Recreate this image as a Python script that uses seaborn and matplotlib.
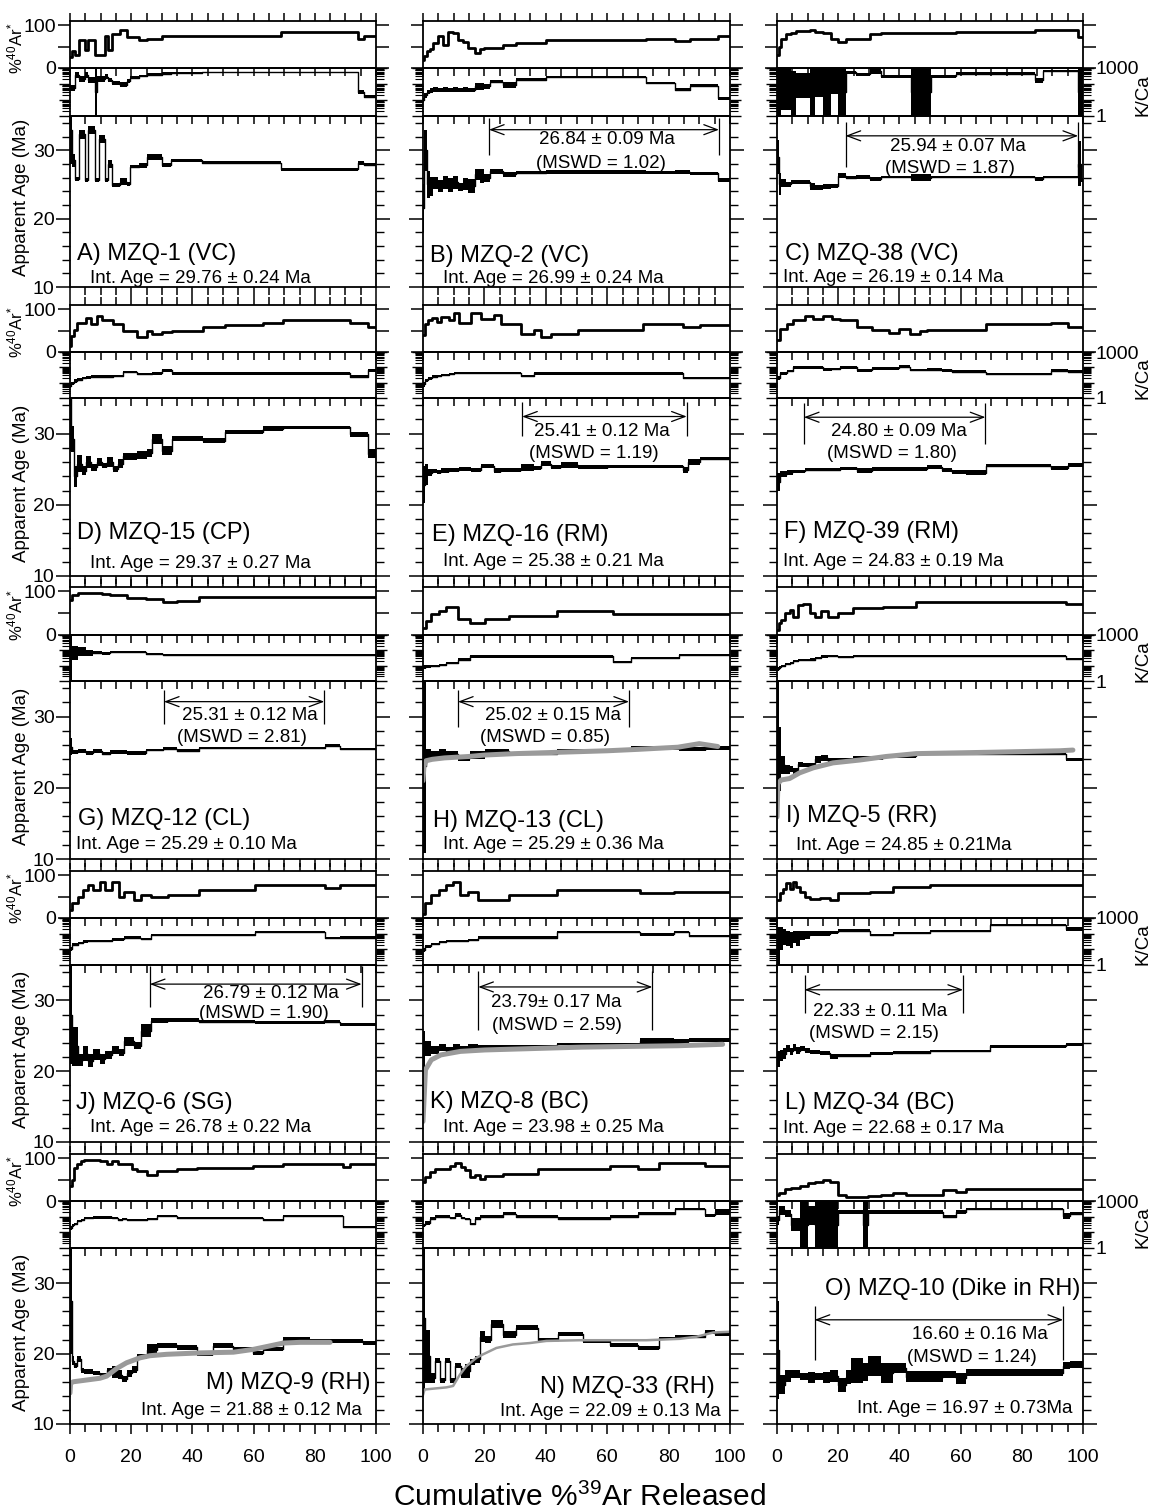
import numpy as np
import matplotlib
matplotlib.use("Agg")
import matplotlib.pyplot as plt
import seaborn as sns
from matplotlib.ticker import MultipleLocator, FixedLocator, LogLocator, FuncFormatter, NullFormatter

sns.set_theme(style="ticks")
plt.rcParams["font.family"] = ["Liberation Sans", "DejaVu Sans"]
plt.rcParams["mathtext.fontset"] = "custom"
plt.rcParams["mathtext.rm"] = "Liberation Sans"
plt.rcParams["mathtext.it"] = "Liberation Sans"
plt.rcParams["mathtext.bf"] = "Liberation Sans"
for k in ["text.color", "axes.labelcolor", "xtick.color", "ytick.color", "axes.edgecolor"]:
    plt.rcParams[k] = "black"

# ---------------- DATA ----------------
# Each sample: step edges (cumulative %39Ar), age (Ma), age half-error, %40Ar*, log10(K/Ca), log10 error
A_edges = [0, 0.7, 1.5, 3.0, 5.0, 6.0, 8.3, 8.7, 9.5, 11.5, 12.3, 13.8, 16.5, 18.5, 19.7, 22.5, 25.0, 30.0, 33.0, 43.0, 69.0, 94.0, 96.0, 100]
A_age = [33.0, 28.5, 25.8, 32.3, 25.6, 33.0, 25.6, 25.6, 31.6, 25.6, 28.0, 24.9, 25.4, 25.0, 27.6, 27.8, 29.0, 27.8, 28.5, 28.2, 27.2, 28.1, 27.9]
A_aerr = [5.0, 1.0, 0.3, 0.6, 0.3, 0.6, 0.3, 0.3, 0.6, 0.3, 0.6, 0.35, 0.5, 0.3, 0.25, 0.35, 0.4, 0.3, 0.25, 0.2, 0.2, 0.3, 0.2]
A_ar = [25, 40, 30, 65, 42, 65, 30, 30, 30, 75, 42, 80, 88, 72, 72, 65, 67, 75, 75, 75, 85, 68, 75]
A_kca = [1.75, 1.75, 2.55, 2.3, 2.55, 2.25, 1.5, 2.3, 2.3, 2.45, 2.25, 2.05, 1.95, 2.2, 2.4, 2.5, 2.58, 2.65, 2.69, 2.72, 2.72, 1.5, 1.2]
A_kerr = [0.2, 0.2, 0.2, 0.2, 0.2, 0.2, 1.5, 0.2, 0.2, 0.15, 0.15, 0.12, 0.15, 0.12, 0.1, 0.08, 0.08, 0.08, 0.07, 0.06, 0.06, 0.1, 0.1]

B_edges = [0, 0.4, 1.2, 2.2, 3.3, 4.9, 6.5, 8.2, 9.8, 11.4, 13.0, 14.7, 16.8, 18.5, 19.8, 21.7, 26.1, 30.4, 40.2, 72.8, 82.1, 87.0, 96.2, 100]
B_age = [21.5, 30.0, 25.0, 24.7, 25.2, 24.8, 25.3, 24.9, 25.3, 24.6, 25.1, 24.8, 26.5, 26.2, 25.9, 26.9, 26.5, 26.7, 26.85, 26.75, 26.8, 26.6, 25.6]
B_aerr = [3.5, 3.0, 2.0, 1.4, 0.9, 0.9, 1.0, 1.0, 1.0, 0.6, 0.9, 1.0, 0.8, 1.0, 0.6, 0.35, 0.35, 0.25, 0.3, 0.25, 0.35, 0.2, 0.3]
B_ar = [19, 27, 40, 45, 58, 75, 54, 85, 81, 65, 62, 46, 35, 45, 46, 46, 54, 59, 65, 69, 64, 69, 75]
B_kca = [1.0, 1.3, 1.5, 1.6, 1.65, 1.6, 1.65, 1.6, 1.65, 1.6, 1.65, 1.6, 1.85, 1.85, 1.85, 2.15, 1.95, 2.27, 2.43, 2.06, 1.64, 1.89, 1.11]
B_kerr = [0.15, 0.15, 0.12, 0.15, 0.15, 0.12, 0.15, 0.12, 0.15, 0.12, 0.15, 0.12, 0.2, 0.2, 0.15, 0.1, 0.2, 0.08, 0.07, 0.08, 0.08, 0.08, 0.1]

C_edges = [0, 0.5, 1.4, 3.1, 4.7, 6.3, 10.7, 12.3, 15.0, 17.8, 20.0, 22.4, 25.9, 30.3, 34.1, 43.9, 50.4, 58.6, 84.2, 86.9, 98.4, 99.2, 100]
C_age = [29.0, 25.0, 25.2, 25.0, 25.4, 25.3, 24.7, 24.6, 24.7, 24.8, 26.3, 26.0, 26.1, 25.8, 26.1, 26.0, 26.1, 26.1, 25.8, 26.1, 28.0, 25.7]
C_aerr = [2.5, 1.6, 0.6, 0.4, 0.3, 0.3, 0.5, 0.35, 0.4, 0.3, 0.4, 0.25, 0.25, 0.25, 0.2, 0.5, 0.2, 0.2, 0.25, 0.2, 3.3, 0.3]
C_ar = [30, 50, 69, 80, 82, 87, 88, 85, 81, 69, 62, 67, 67, 80, 81, 81, 81, 85, 90, 90, 73, 73]
C_kca = [1.5, 1.5, 1.7, 1.7, 1.4, 1.9, 1.5, 2.1, 1.5, 2.2, 1.5, 2.73, 2.6, 2.8, 2.48, 1.5, 2.48, 2.64, 2.22, 2.8, 1.5, 1.5]
C_kerr = [1.5, 1.5, 1.3, 1.3, 1.4, 0.8, 1.5, 0.9, 1.5, 0.8, 1.5, 0.1, 0.1, 0.2, 0.08, 1.5, 0.08, 0.08, 0.15, 0.08, 1.5, 1.5]

D_edges = [0, 0.4, 1.3, 2.4, 3.8, 5.2, 6.8, 8.7, 10.3, 12.2, 14.2, 15.8, 17.4, 21.8, 25.1, 26.7, 30.0, 33.2, 43.6, 50.7, 63.2, 69.7, 91.5, 97.5, 100]
D_age = [35.0, 29.2, 24.0, 25.8, 24.8, 26.0, 25.3, 26.0, 25.5, 26.0, 25.0, 25.8, 26.8, 27.0, 27.3, 29.3, 27.6, 29.3, 29.0, 30.2, 30.7, 30.9, 29.9, 27.2]
D_aerr = [7.5, 1.8, 1.5, 1.2, 0.6, 0.8, 0.5, 0.6, 0.4, 0.7, 0.4, 0.6, 0.5, 0.5, 0.6, 0.7, 0.6, 0.3, 0.35, 0.25, 0.3, 0.2, 0.35, 0.6]
D_ar = [15, 38, 52, 68, 69, 80, 65, 85, 75, 75, 65, 65, 50, 35, 48, 42, 46, 48, 59, 63, 69, 75, 69, 58]
D_kca = [0.8, 0.95, 1.1, 1.2, 1.3, 1.35, 1.4, 1.4, 1.4, 1.4, 1.42, 1.42, 1.7, 1.55, 1.55, 1.6, 1.8, 1.6, 1.6, 1.6, 1.6, 1.6, 1.4, 1.8]
D_kerr = [0.12, 0.12, 0.12, 0.12, 0.08, 0.08, 0.08, 0.08, 0.08, 0.08, 0.08, 0.08, 0.08, 0.08, 0.08, 0.08, 0.08, 0.08, 0.08, 0.08, 0.08, 0.08, 0.08, 0.12]

E_edges = [0, 0.6, 1.5, 2.8, 4.5, 6.0, 8.4, 10.0, 11.7, 15.7, 19.0, 23.0, 25.4, 31.9, 36.0, 38.4, 41.7, 44.9, 50.6, 60.3, 71.6, 84.6, 86.2, 90.3, 100]
E_age = [22.8, 24.3, 24.5, 24.7, 24.6, 24.8, 24.9, 24.9, 25.0, 24.9, 25.4, 24.8, 24.9, 25.2, 25.2, 25.8, 25.3, 25.6, 25.3, 25.4, 25.4, 24.9, 26.0, 26.5]
E_aerr = [2.6, 1.5, 0.5, 0.3, 0.3, 0.3, 0.25, 0.25, 0.25, 0.25, 0.3, 0.3, 0.25, 0.5, 0.25, 0.35, 0.3, 0.45, 0.3, 0.25, 0.25, 0.45, 0.45, 0.25]
E_ar = [40, 65, 75, 80, 70, 82, 75, 92, 69, 92, 77, 87, 65, 42, 52, 35, 42, 42, 52, 52, 65, 58, 58, 64]
E_kca = [0.9, 1.15, 1.3, 1.4, 1.45, 1.5, 1.57, 1.65, 1.65, 1.65, 1.65, 1.65, 1.65, 1.45, 1.6, 1.6, 1.6, 1.6, 1.6, 1.6, 1.6, 1.3, 1.3, 1.3]
E_kerr = [0.15, 0.12, 0.1, 0.07, 0.07, 0.07, 0.07, 0.07, 0.07, 0.07, 0.07, 0.07, 0.07, 0.07, 0.07, 0.07, 0.07, 0.07, 0.07, 0.07, 0.07, 0.07, 0.07, 0.07]

F_edges = [0, 1.1, 3.2, 5.2, 9.2, 11.7, 14.9, 18.1, 20.6, 26.3, 31.1, 36.7, 40.0, 43.4, 46.6, 48.9, 53.8, 57.1, 61.9, 68.4, 89.5, 95.1, 100]
F_age = [23.2, 24.3, 24.6, 24.7, 24.9, 24.9, 24.9, 24.9, 25.1, 24.8, 25.0, 25.0, 25.0, 25.0, 25.0, 25.3, 24.9, 24.6, 24.5, 25.5, 25.2, 25.6]
F_aerr = [1.2, 0.4, 0.35, 0.2, 0.2, 0.2, 0.2, 0.2, 0.2, 0.35, 0.3, 0.3, 0.3, 0.3, 0.3, 0.3, 0.25, 0.3, 0.35, 0.2, 0.3, 0.3]
F_ar = [27, 54, 65, 75, 85, 77, 85, 77, 75, 58, 52, 44, 54, 42, 50, 52, 52, 52, 52, 65, 69, 58]
F_kca = [1.3, 1.6, 1.75, 2.0, 2.0, 2.0, 1.87, 1.9, 2.0, 1.8, 1.93, 1.93, 2.04, 1.82, 1.82, 1.85, 1.8, 1.72, 1.72, 1.57, 1.78, 1.72]
F_kerr = [0.12, 0.1, 0.08, 0.08, 0.08, 0.08, 0.08, 0.08, 0.08, 0.08, 0.08, 0.08, 0.08, 0.08, 0.08, 0.08, 0.08, 0.08, 0.08, 0.07, 0.08, 0.1]

G_edges = [0, 0.8, 2.7, 5.1, 7.4, 10.6, 13.0, 18.5, 24.8, 30.4, 35.1, 42.2, 83.4, 88.1, 100]
G_age = [25.8, 25.0, 25.2, 24.9, 25.2, 24.8, 25.0, 24.9, 25.3, 25.5, 25.2, 25.6, 25.9, 25.5]
G_aerr = [1.2, 0.3, 0.3, 0.3, 0.3, 0.25, 0.25, 0.25, 0.2, 0.2, 0.2, 0.15, 0.2, 0.15]
G_ar = [80, 92, 97, 97, 97, 95, 92, 85, 82, 75, 78, 88, 88, 88]
G_kca = [1.5, 1.8, 1.9, 1.8, 1.85, 1.8, 1.9, 1.9, 1.75, 1.7, 1.7, 1.7, 1.7, 1.7]
G_kerr = [1.45, 0.45, 0.3, 0.2, 0.1, 0.08, 0.06, 0.06, 0.06, 0.06, 0.06, 0.06, 0.06, 0.06]

H_edges = [0, 1.1, 2.7, 5.1, 7.4, 11.4, 15.3, 20.1, 28.0, 43.8, 62.0, 67.6, 83.4, 92.1, 100]
H_age = [23.0, 24.8, 24.6, 25.0, 24.7, 24.2, 24.6, 25.1, 24.8, 25.2, 25.3, 25.6, 25.5, 25.6]
H_aerr = [12.2, 0.6, 0.5, 0.5, 0.5, 0.4, 0.5, 0.3, 0.25, 0.2, 0.3, 0.25, 0.3, 0.3]
H_ar = [16, 31, 47, 55, 65, 37, 28, 37, 43, 55, 49, 49, 49, 49]
H_kca = [0.9, 0.95, 1.0, 1.05, 1.2, 1.4, 1.6, 1.6, 1.6, 1.6, 1.25, 1.5, 1.7, 1.7]
H_kerr = [0.12, 0.1, 0.07, 0.07, 0.07, 0.07, 0.07, 0.07, 0.07, 0.07, 0.07, 0.07, 0.07, 0.07]
H_gx = [0, 0.3, 1, 3, 7, 15, 20, 30, 45, 60, 70, 83, 90, 93, 96]
H_gy = [21.0, 23.0, 23.8, 24.0, 24.2, 24.4, 24.6, 24.8, 25.0, 25.2, 25.4, 25.7, 26.2, 26.0, 25.8]

I_edges = [0, 0.5, 1.4, 2.5, 4.1, 5.2, 6.9, 8.5, 10.7, 12.3, 14.5, 16.7, 19.9, 24.8, 34.6, 45.5, 94.6, 100]
I_age = [26.0, 24.0, 23.2, 22.6, 22.6, 22.4, 23.3, 23.2, 23.1, 24.0, 24.2, 23.8, 23.9, 24.2, 24.4, 24.8, 24.0]
I_aerr = [9.5, 4.5, 1.2, 0.6, 0.4, 0.4, 0.35, 0.25, 0.35, 0.45, 0.45, 0.35, 0.25, 0.25, 0.2, 0.2, 0.2]
I_ar = [12, 27, 35, 50, 58, 42, 69, 71, 50, 42, 54, 42, 50, 62, 65, 75, 71]
I_kca = [0.8, 0.9, 1.0, 1.1, 1.15, 1.3, 1.35, 1.35, 1.4, 1.5, 1.6, 1.65, 1.55, 1.65, 1.65, 1.65, 1.44]
I_kerr = [0.12, 0.1, 0.07, 0.07, 0.07, 0.07, 0.07, 0.07, 0.07, 0.07, 0.07, 0.07, 0.07, 0.07, 0.07, 0.07, 0.07]
I_gx = [0, 0.3, 1.4, 4.1, 7.4, 11.8, 18.3, 27, 35.7, 45.5, 70.6, 92.4, 96.7]
I_gy = [15.9, 20.6, 21.1, 21.3, 22.1, 22.8, 23.5, 23.9, 24.4, 24.8, 25.0, 25.2, 25.3]

J_edges = [0, 0.8, 2.7, 4.3, 5.9, 7.4, 9.8, 11.4, 13.8, 16.1, 17.7, 20.9, 23.3, 26.4, 32.0, 42.2, 60.4, 83.4, 88.1, 100]
J_age = [28.0, 23.5, 21.6, 22.5, 21.5, 22.4, 21.7, 22.3, 23.0, 22.6, 24.2, 23.6, 25.7, 27.1, 27.2, 27.0, 26.9, 27.0, 26.6]
J_aerr = [7.0, 2.8, 0.9, 1.1, 0.9, 0.8, 0.7, 0.6, 0.5, 0.5, 0.6, 0.5, 0.9, 0.35, 0.25, 0.2, 0.2, 0.2, 0.2]
J_ar = [18, 34, 50, 66, 78, 66, 84, 65, 84, 50, 62, 42, 54, 49, 54, 66, 78, 70, 77]
J_kca = [1.0, 1.3, 1.4, 1.5, 1.55, 1.55, 1.55, 1.55, 1.63, 1.63, 1.75, 1.75, 1.65, 1.9, 1.9, 1.9, 2.1, 1.7, 1.75]
J_kerr = [0.12, 0.1, 0.07, 0.07, 0.07, 0.07, 0.07, 0.07, 0.07, 0.07, 0.07, 0.07, 0.07, 0.07, 0.07, 0.07, 0.07, 0.07, 0.07]

K_edges = [0, 0.8, 2.7, 5.1, 7.4, 9.8, 12.2, 14.6, 18.0, 28.0, 43.8, 70.7, 81.8, 86.6, 100]
K_age = [23.0, 23.2, 23.0, 23.3, 22.9, 23.4, 23.1, 23.5, 23.5, 23.5, 23.85, 24.3, 24.2, 24.4]
K_aerr = [2.7, 1.0, 0.6, 0.5, 0.5, 0.4, 0.4, 0.3, 0.25, 0.25, 0.2, 0.4, 0.4, 0.25]
K_ar = [10, 34, 54, 66, 78, 84, 55, 62, 42, 54, 66, 58, 60, 60]
K_kca = [0.95, 1.2, 1.35, 1.45, 1.55, 1.55, 1.55, 1.6, 1.75, 1.75, 2.1, 1.95, 2.1, 1.85]
K_kerr = [0.12, 0.1, 0.07, 0.07, 0.07, 0.07, 0.07, 0.07, 0.07, 0.07, 0.07, 0.07, 0.07, 0.07]
K_gx = [0, 0.8, 2.7, 5.8, 12.2, 20.1, 35.9, 51.7, 67.4, 83.2, 97.6]
K_gy = [12.9, 20.2, 21.6, 22.3, 22.8, 23.0, 23.2, 23.4, 23.5, 23.6, 23.8]

L_edges = [0, 0.9, 2.0, 3.1, 4.1, 5.2, 6.3, 7.4, 9.0, 10.7, 13.9, 17.2, 19.9, 30.3, 37.9, 49.9, 69.5, 94.6, 100]
L_age = [21.7, 22.2, 22.5, 23.2, 22.8, 23.3, 22.9, 23.2, 22.9, 22.7, 22.6, 22.1, 22.2, 22.55, 22.6, 22.85, 23.5, 23.8]
L_aerr = [1.1, 0.8, 0.8, 0.5, 0.5, 0.5, 0.5, 0.4, 0.35, 0.3, 0.3, 0.4, 0.2, 0.2, 0.2, 0.2, 0.2, 0.2]
L_ar = [42, 58, 67, 81, 69, 85, 73, 62, 50, 44, 46, 42, 58, 62, 73, 78, 78, 78]
L_kca = [1.2, 1.7, 1.8, 1.7, 1.6, 1.8, 1.7, 1.9, 1.9, 2.0, 2.0, 2.1, 2.2, 1.93, 2.05, 2.2, 2.57, 2.3]
L_kerr = [1.2, 0.75, 0.5, 0.5, 0.5, 0.4, 0.5, 0.3, 0.25, 0.15, 0.15, 0.1, 0.08, 0.06, 0.06, 0.06, 0.06, 0.1]

M_edges = [0, 0.5, 1.3, 2.4, 3.5, 4.6, 7.6, 9.8, 12.0, 13.6, 15.8, 16.9, 18.5, 20.2, 21.8, 25.1, 28.3, 34.9, 41.4, 46.8, 53.4, 59.9, 63.2, 69.7, 78.4, 89.3, 91.5, 95.9, 100]
M_age = [27.5, 19.0, 18.3, 19.2, 17.6, 17.4, 17.2, 16.9, 17.6, 17.4, 17.0, 16.4, 17.2, 17.7, 19.6, 20.5, 21.2, 20.9, 20.0, 21.1, 20.6, 20.1, 20.7, 22.0, 21.8, 21.8, 21.8, 21.5]
M_aerr = [7.5, 0.6, 0.4, 0.4, 0.4, 0.35, 0.3, 0.35, 0.35, 0.9, 0.6, 0.4, 0.5, 0.5, 0.4, 0.8, 0.35, 0.35, 0.3, 0.35, 0.3, 0.3, 0.3, 0.3, 0.25, 0.25, 0.25, 0.25]
M_ar = [34, 50, 78, 86, 94, 96, 96, 94, 86, 94, 86, 86, 86, 75, 70, 62, 70, 74, 78, 78, 78, 82, 82, 87, 87, 80, 87, 87]
M_kca = [1.3, 1.45, 1.55, 1.7, 1.8, 1.9, 1.95, 1.95, 1.95, 1.9, 1.8, 1.85, 1.8, 1.8, 1.8, 1.85, 2.05, 1.9, 1.9, 1.9, 1.9, 1.9, 1.8, 2.05, 2.05, 1.36, 1.36, 1.36]
M_kerr = [0.12, 0.1, 0.07, 0.07, 0.07, 0.07, 0.07, 0.07, 0.07, 0.07, 0.07, 0.07, 0.07, 0.07, 0.07, 0.07, 0.07, 0.07, 0.07, 0.07, 0.07, 0.07, 0.07, 0.07, 0.07, 0.07, 0.07, 0.07]
M_gx = [0, 0.2, 1.1, 9.8, 12.0, 15.3, 18.5, 22.9, 26.1, 31.6, 42.5, 53.4, 59.9, 64.3, 69.7, 75.2, 85.0]
M_gy = [14.4, 15.8, 16.0, 16.5, 16.8, 17.9, 18.7, 19.4, 19.7, 19.9, 20.1, 20.2, 20.6, 21.0, 21.5, 21.6, 21.6]

N_edges = [0, 0.5, 2.2, 3.8, 5.4, 7.1, 8.7, 10.3, 12.5, 13.6, 15.2, 16.8, 18.5, 20.1, 22.3, 26.1, 30.4, 37.5, 44.0, 52.2, 60.9, 70.1, 77.0, 82.1, 91.8, 95.1, 100]
N_age = [25.0, 19.6, 16.5, 19.0, 16.2, 19.0, 16.2, 18.3, 17.3, 17.5, 18.8, 19.2, 22.4, 22.0, 24.2, 22.7, 23.7, 21.95, 22.8, 21.75, 21.2, 20.85, 22.2, 22.4, 23.1, 22.8]
N_aerr = [10.0, 3.8, 0.7, 0.4, 0.4, 0.4, 0.4, 0.4, 0.7, 1.0, 0.4, 0.5, 0.8, 0.5, 0.55, 0.5, 0.35, 0.2, 0.3, 0.25, 0.3, 0.3, 0.2, 0.25, 0.25, 0.25]
N_ar = [44, 56, 68, 74, 74, 76, 82, 88, 80, 72, 56, 60, 52, 58, 58, 64, 64, 74, 74, 74, 82, 74, 88, 88, 82, 82]
N_kca = [1.44, 1.6, 1.87, 2.0, 2.0, 2.0, 1.93, 2.1, 1.9, 1.85, 1.54, 1.87, 2.0, 2.0, 2.0, 2.19, 2.0, 2.0, 1.87, 1.87, 2.0, 2.19, 2.19, 2.5, 2.08, 2.29]
N_kerr = [0.12, 0.12, 0.08, 0.08, 0.08, 0.08, 0.08, 0.15, 0.08, 0.08, 0.08, 0.08, 0.08, 0.08, 0.08, 0.08, 0.08, 0.08, 0.08, 0.08, 0.08, 0.08, 0.08, 0.08, 0.08, 0.2]
N_gx = [0, 0.5, 7.6, 9.8, 12.0, 14.1, 17.4, 19.6, 23.9, 29.3, 34.8, 40.2, 51.1, 62.0, 72.8, 78.3, 83.7, 89.1, 94.6, 100]
N_gy = [14.1, 14.9, 15.2, 15.4, 17.0, 18.2, 19.4, 19.9, 20.8, 21.3, 21.5, 21.8, 21.9, 21.9, 21.9, 22.0, 22.1, 22.4, 23.0, 23.1]

O_edges = [0, 0.7, 2.5, 4.7, 7.4, 10.1, 12.3, 15.0, 17.2, 19.9, 22.7, 24.3, 28.1, 29.7, 34.1, 37.9, 42.3, 54.2, 58.6, 61.9, 93.5, 95.6, 100]
O_age = [20.5, 15.6, 16.8, 17.1, 16.8, 16.6, 16.8, 16.6, 16.8, 15.6, 16.7, 17.6, 17.4, 18.2, 17.2, 17.9, 16.7, 17.0, 16.5, 17.3, 18.3, 18.5]
O_aerr = [7.0, 1.4, 0.8, 0.5, 0.5, 0.8, 0.5, 0.8, 0.8, 1.0, 1.0, 1.8, 1.3, 1.4, 1.4, 0.7, 0.8, 0.5, 0.8, 0.55, 0.5, 0.5]
O_ar = [14, 19, 28, 30, 35, 42, 45, 50, 45, 14, 10, 10, 10, 12, 14, 18, 14, 26, 22, 27, 27, 27]
O_kca = [1.76, 2.4, 2.2, 1.5, 1.5, 2.1, 1.5, 1.5, 1.5, 2.3, 2.3, 2.3, 1.5, 2.3, 2.3, 2.3, 2.3, 2.0, 2.3, 2.5, 2.05, 2.2]
O_kerr = [0.3, 0.3, 0.2, 0.4, 1.5, 0.6, 1.5, 1.5, 1.5, 0.1, 0.1, 0.1, 1.5, 0.1, 0.1, 0.1, 0.1, 0.1, 0.1, 0.08, 0.2, 0.1]

# Labels and plateau results
labels = ["A) MZQ-1 (VC)", "B) MZQ-2 (VC)", "C) MZQ-38 (VC)",
          "D) MZQ-15 (CP)", "E) MZQ-16 (RM)", "F) MZQ-39 (RM)",
          "G) MZQ-12 (CL)", "H) MZQ-13 (CL)", "I) MZQ-5 (RR)",
          "J) MZQ-6 (SG)", "K) MZQ-8 (BC)", "L) MZQ-34 (BC)",
          "M) MZQ-9 (RH)", "N) MZQ-33 (RH)", "O) MZQ-10 (Dike in RH)"]
int_ages = ["Int. Age = 29.76 ± 0.24 Ma", "Int. Age = 26.99 ± 0.24 Ma", "Int. Age = 26.19 ± 0.14 Ma",
            "Int. Age = 29.37 ± 0.27 Ma", "Int. Age = 25.38 ± 0.21 Ma", "Int. Age = 24.83 ± 0.19 Ma",
            "Int. Age = 25.29 ± 0.10 Ma", "Int. Age = 25.29 ± 0.36 Ma", "Int. Age = 24.85 ± 0.21Ma",
            "Int. Age = 26.78 ± 0.22 Ma", "Int. Age = 23.98 ± 0.25 Ma", "Int. Age = 22.68 ± 0.17 Ma",
            "Int. Age = 21.88 ± 0.12 Ma", "Int. Age = 22.09 ± 0.13 Ma", "Int. Age = 16.97 ± 0.73Ma"]
plateau_ranges = {"B": (21.5, 96.4), "C": (22.4, 98.4), "E": (32.3, 85.9), "F": (8.8, 68.1),
                  "G": (30.7, 83.1), "H": (11.4, 67.1), "J": (26.1, 95.3), "K": (18.0, 74.7),
                  "L": (9.0, 60.8), "O": (12.3, 93.5)}
plateau_ages = {"B": "26.84 ± 0.09 Ma", "C": "25.94 ± 0.07 Ma", "E": "25.41 ± 0.12 Ma",
                "F": "24.80 ± 0.09 Ma", "G": "25.31 ± 0.12 Ma", "H": "25.02 ± 0.15 Ma",
                "J": "26.79 ± 0.12 Ma", "K": "23.79± 0.17 Ma", "L": "22.33 ± 0.11 Ma",
                "O": "16.60 ± 0.16 Ma"}
plateau_mswd = {"B": "(MSWD = 1.02)", "C": "(MSWD = 1.87)", "E": "(MSWD = 1.19)",
                "F": "(MSWD = 1.80)", "G": "(MSWD = 2.81)", "H": "(MSWD = 0.85)",
                "J": "(MSWD = 1.90)", "K": "(MSWD = 2.59)", "L": "(MSWD = 2.15)",
                "O": "(MSWD = 1.24)"}

# ---------------- LAYOUT (positions only) ----------------
# arrow y, line bottom, line top, text1 (x,y), text2 (x,y)
plateau_layout = {"B": (33.0, 29.3, 34.7, 60.0, 31.6, 58.0, 28.1),
                  "C": (32.1, 27.6, 34.1, 59.0, 30.6, 56.6, 27.3),
                  "E": (32.4, 29.6, 34.5, 58.3, 30.3, 55.8, 27.2),
                  "F": (32.3, 28.6, 34.3, 39.9, 30.3, 37.4, 27.2),
                  "G": (32.1, 29.0, 33.8, 58.7, 30.2, 56.2, 27.0),
                  "H": (32.1, 28.6, 33.8, 42.2, 30.2, 39.9, 27.0),
                  "J": (32.3, 29.1, 34.8, 65.7, 31.0, 63.4, 28.1),
                  "K": (31.9, 25.8, 34.1, 43.5, 29.7, 43.5, 26.5),
                  "L": (31.5, 28.2, 33.6, 33.8, 28.4, 31.6, 25.3),
                  "O": (24.8, 19.1, 26.8, 66.4, 22.7, 63.7, 19.5)}
label_pos = [(2.3, 14.8, 6.5, 11.3, "left"), (2.2, 14.6, 6.5, 11.3, "left"), (2.5, 14.8, 2.0, 11.4, "left"),
             (2.4, 16.0, 6.5, 11.8, "left"), (2.8, 15.8, 6.5, 12.0, "left"), (2.3, 16.2, 1.9, 12.1, "left"),
             (2.7, 15.6, 1.9, 12.1, "left"), (3.2, 15.4, 6.6, 12.1, "left"), (3.0, 16.0, 6.3, 11.9, "left"),
             (1.9, 15.5, 6.6, 12.1, "left"), (2.4, 15.6, 6.6, 12.1, "left"), (2.5, 15.5, 2.0, 11.9, "left"),
             (98.3, 15.8, 95.3, 11.9, "right"), (95.1, 15.3, 97.0, 11.8, "right"), (99.1, 29.2, 96.5, 12.2, "right")]

W, H = 1160, 1509
COLS = [(70, 376), (423, 730), (777, 1083)]
ROWS = [(21, 68, 116, 287), (305, 352, 398, 576), (587, 635, 681, 859),
        (871, 918, 965, 1142), (1154, 1201, 1248, 1424)]

samples = {
    "A": (A_edges, A_age, A_aerr, A_ar, A_kca, A_kerr),
    "B": (B_edges, B_age, B_aerr, B_ar, B_kca, B_kerr),
    "C": (C_edges, C_age, C_aerr, C_ar, C_kca, C_kerr),
    "D": (D_edges, D_age, D_aerr, D_ar, D_kca, D_kerr),
    "E": (E_edges, E_age, E_aerr, E_ar, E_kca, E_kerr),
    "F": (F_edges, F_age, F_aerr, F_ar, F_kca, F_kerr),
    "G": (G_edges, G_age, G_aerr, G_ar, G_kca, G_kerr),
    "H": (H_edges, H_age, H_aerr, H_ar, H_kca, H_kerr),
    "I": (I_edges, I_age, I_aerr, I_ar, I_kca, I_kerr),
    "J": (J_edges, J_age, J_aerr, J_ar, J_kca, J_kerr),
    "K": (K_edges, K_age, K_aerr, K_ar, K_kca, K_kerr),
    "L": (L_edges, L_age, L_aerr, L_ar, L_kca, L_kerr),
    "M": (M_edges, M_age, M_aerr, M_ar, M_kca, M_kerr),
    "N": (N_edges, N_age, N_aerr, N_ar, N_kca, N_kerr),
    "O": (O_edges, O_age, O_aerr, O_ar, O_kca, O_kerr),
}
gray_curves = {"H": (H_gx, H_gy, 3.6), "I": (I_gx, I_gy, 3.6), "K": (K_gx, K_gy, 3.6),
               "M": (M_gx, M_gy, 3.6), "N": (N_gx, N_gy, 1.8)}

fig = plt.figure(figsize=(W / 100, H / 100), dpi=100)
fig.patch.set_facecolor("white")


def add_ax(x0, x1, y0, y1):
    ax = fig.add_axes([x0 / W, 1 - y1 / H, (x1 - x0) / W, (y1 - y0) / H])
    ax.patch.set_visible(False)
    for s in ax.spines.values():
        s.set_visible(True)
        s.set_linewidth(1.3)
        s.set_color("black")
    ax.set_xlim(0, 100)
    return ax


def fit(v, n):
    v = list(v)[:n]
    while len(v) < n:
        v.append(v[-1])
    return np.asarray(v, dtype=float)


def ext(v):
    return np.append(v, v[-1])


def steps(ax, x, y, lw):
    sns.lineplot(x=x, y=y, ax=ax, color="black", linewidth=lw, drawstyle="steps-post",
                 estimator=None, sort=False, legend=False)


TICK = 14
letters = list("ABCDEFGHIJKLMNO")
for idx, key in enumerate(letters):
    r, c = divmod(idx, 3)
    x0, x1 = COLS[c]
    yt, y0line, ykb, yab = ROWS[r]
    ax_ar = add_ax(x0, x1, yt, y0line)
    ax_k = add_ax(x0, x1, y0line, ykb)
    ax_age = add_ax(x0, x1, ykb, yab)

    edges, age, aerr, ar, kca, kerr = samples[key]
    x = np.asarray(edges, dtype=float)
    n = len(x) - 1
    age = fit(age, n); aerr = fit(aerr, n); ar = fit(ar, n)
    kca = fit(kca, n); kerr = fit(kerr, n)

    # Age spectrum
    ax_age.fill_between(x, ext(age - aerr), ext(age + aerr), step="post", color="black", lw=0)
    steps(ax_age, x, ext(age), 1.0)
    if key in gray_curves:
        gx, gy, glw = gray_curves[key]
        sns.lineplot(x=gx, y=gy, ax=ax_age, color="#9a9a9a", linewidth=glw,
                     estimator=None, sort=False, legend=False)
    ax_age.set_ylim(10, 35)

    # %40Ar*
    steps(ax_ar, x, ext(ar), 2.0)
    ax_ar.set_ylim(0, 110)

    # K/Ca
    ax_k.set_yscale("log")
    ax_k.fill_between(x, ext(10 ** (kca - kerr)), ext(10 ** (kca + kerr)), step="post",
                      color="black", lw=0)
    steps(ax_k, x, ext(10 ** kca), 1.0)
    ax_k.set_ylim(1, 1000)

    for a in (ax_ar, ax_k, ax_age):
        a.set_xlim(0, 100)
        a.set_xlabel("")
        a.set_ylabel("")
        a.xaxis.set_major_locator(MultipleLocator(20))
        a.xaxis.set_minor_locator(MultipleLocator(5))

    # ticks: Ar*
    ax_ar.tick_params(axis="x", which="both", direction="out", top=True, bottom=True,
                      labeltop=False, labelbottom=False, length=6, width=1.1, color="black")
    ax_ar.yaxis.set_major_locator(FixedLocator([0, 50, 100]))
    ax_ar.yaxis.set_major_formatter(FuncFormatter(lambda v, p: "" if v == 50 else "%d" % v))
    ax_ar.tick_params(axis="y", which="major", direction="out", left=True, right=True,
                      labelleft=(c == 0), labelright=False, length=9, width=1.1,
                      labelsize=TICK, pad=1, color="black", labelcolor="black")
    # ticks: K/Ca
    ax_k.tick_params(axis="x", which="both", direction="out", top=False, bottom=True,
                     labelbottom=False, length=6, width=1.1, color="black")
    ax_k.yaxis.set_major_locator(LogLocator(base=10, numticks=10))
    ax_k.yaxis.set_minor_locator(LogLocator(base=10, subs=np.arange(2, 10), numticks=30))
    ax_k.yaxis.set_minor_formatter(NullFormatter())
    ax_k.yaxis.set_major_formatter(FuncFormatter(
        lambda v, p: "1000" if abs(v - 1000) < 1 else ("1" if abs(v - 1) < 0.01 else "")))
    ax_k.tick_params(axis="y", which="major", direction="out", left=True, right=True,
                     labelleft=False, labelright=(c == 2), length=8, width=1.0,
                     labelsize=TICK, pad=1, color="black", labelcolor="black")
    ax_k.tick_params(axis="y", which="minor", direction="out", left=True, right=True,
                     length=6, width=0.8, color="black")
    # ticks: Age
    ax_age.yaxis.set_major_locator(FixedLocator([10, 20, 30]))
    ax_age.yaxis.set_minor_locator(MultipleLocator(2))
    ax_age.tick_params(axis="y", which="major", direction="out", left=True, right=True,
                       labelleft=(c == 0), labelright=False, length=10, width=1.1,
                       labelsize=TICK, pad=1, color="black", labelcolor="black")
    ax_age.tick_params(axis="y", which="minor", direction="out", left=True, right=True,
                       length=6, width=1.0, color="black")
    ax_age.tick_params(axis="x", which="major", direction="out", top=False, bottom=True,
                       labelbottom=(r == 4), length=7, width=1.1, labelsize=TICK, pad=11,
                       color="black", labelcolor="black")
    ax_age.tick_params(axis="x", which="minor", direction="out", top=False, bottom=True,
                       length=6, width=1.1, color="black")

    # plateau
    if key in plateau_ranges:
        p1, p2 = plateau_ranges[key]
        ya, ylo, yhi, tx1, ty1, tx2, ty2 = plateau_layout[key]
        ax_age.vlines([p1, p2], ylo, yhi, color="black", lw=0.9)
        ax_age.annotate("", xy=(p1, ya), xytext=(p2, ya),
                        arrowprops=dict(arrowstyle="<->,head_length=0.8,head_width=0.3",
                                        lw=0.9, color="black", shrinkA=0, shrinkB=0))
        ax_age.text(tx1, ty1, plateau_ages[key], ha="center", va="center", fontsize=13.5,
                    color="black")
        ax_age.text(tx2, ty2, plateau_mswd[key], ha="center", va="center", fontsize=13.5,
                    color="black")

    lx, ly, ix, iy, ha = label_pos[idx]
    ax_age.text(lx, ly, labels[idx], ha=ha, va="center", fontsize=17, color="black")
    ax_age.text(ix, iy, int_ages[idx], ha=ha, va="center", fontsize=13.5, color="black")

    # row labels
    if c == 0:
        fig.text(15 / W, 1 - ((yt + y0line) / 2 + 4) / H, "%$^{40}$Ar$^{*}$", rotation=90,
                 ha="center", va="center", fontsize=12, color="black")
        fig.text(22 / W, 1 - ((ykb + yab) / 2 - 4) / H, "Apparent Age (Ma)", rotation=90,
                 ha="center", va="center", fontsize=13.5, color="black")
    if c == 2:
        fig.text(1143 / W, 1 - ((y0line + ykb) / 2 + 3) / H, "K/Ca", rotation=90,
                 ha="center", va="center", fontsize=13.5, color="black")

fig.text(580 / W, 1 - 1497 / H, "Cumulative %$^{39}$Ar Released", ha="center", va="center",
         fontsize=21.5, color="black")

fig.savefig("out.png", dpi=100, facecolor="white")
